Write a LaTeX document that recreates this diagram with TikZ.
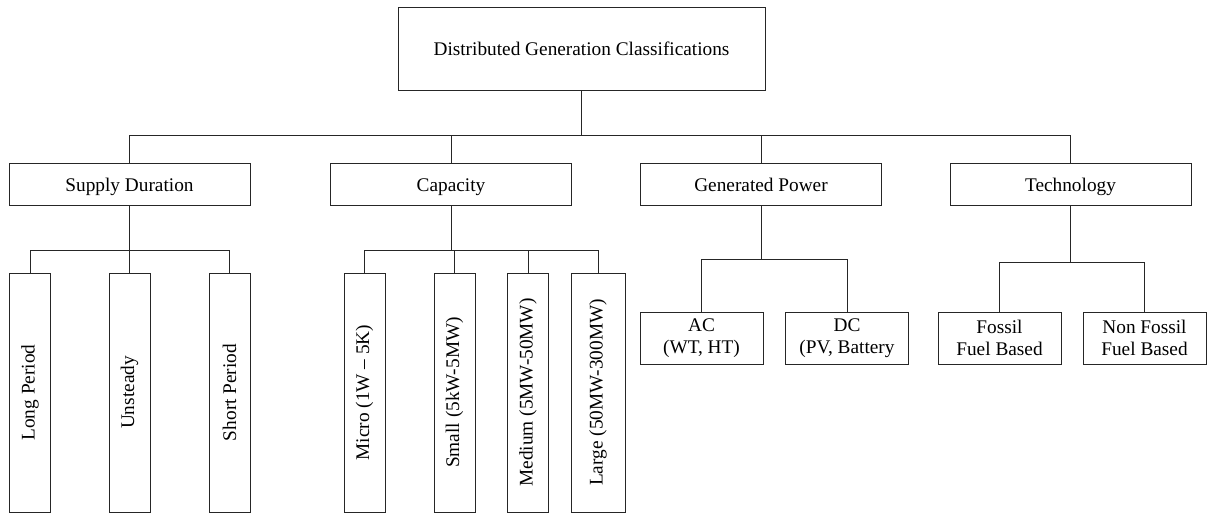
\documentclass[tikz,border=0pt]{standalone}
\usepackage{fontspec}
\setmainfont{Liberation Serif}
\usepackage{graphicx}
\begin{document}
\begin{tikzpicture}[x=1pt,y=-1pt,
  box/.style={draw=black!85, line width=1pt, inner sep=0pt, align=center,
    font=\fontsize{19.3}{22.5}\selectfont},
  topbox/.style={box, minimum width=367pt, minimum height=83pt, text height=13pt, text depth=0pt},
  midbox/.style={box, minimum width=241pt, minimum height=41pt, text height=13pt, text depth=0pt},
  vbox/.style={box, minimum width=41pt, minimum height=239pt},
  hbox/.style={box, minimum width=123pt, minimum height=52pt},
  conn/.style={draw=black!85, line width=1pt}]
\useasboundingbox (0,0) rectangle (1209,513);
% bus levels
\coordinate (y1) at (0,136);
\coordinate (y2) at (0,250);
\coordinate (y3) at (0,259);
\coordinate (y4) at (0,262);
% root
\node[topbox] (root) at (581.5,49.5) {Distributed Generation Classifications};
% level 2
\node[midbox] (sd) at (129.5,184.5) {Supply Duration};
\node[midbox] (cap) at (451,184.5) {Capacity};
\node[midbox] (gp) at (761,184.5) {Generated Power};
\node[midbox] (tech) at (1070.5,184.5) {Technology};
% supply duration children
\node[vbox] (lp) at (30,392.5) {\rotatebox{90}{Long Period}};
\node[vbox] (un) at (129.5,392.5) {\rotatebox{90}{Unsteady}};
\node[vbox] (sp) at (229.5,392.5) {\rotatebox{90}{Short Period}};
% capacity children
\node[vbox] (mi) at (364.5,392.5) {\rotatebox{90}{Micro (1W -- 5K)}};
\node[vbox] (sm) at (454.5,392.5) {\rotatebox{90}{Small (5kW-5MW)}};
\node[vbox] (me) at (528,392.5) {\rotatebox{90}{Medium (5MW-50MW)}};
\node[vbox, minimum width=54pt] (la) at (598,392.5) {\rotatebox{90}{Large (50MW-300MW)}};
% generated power children
\node[hbox] (ac) at (701.5,338) {AC\\(WT, HT)};
\node[hbox] (dc) at (847,338) {DC\\(PV, Battery};
% technology children
\node[hbox] (fo) at (999.5,338) {Fossil\\Fuel Based};
\node[hbox] (nf) at (1144.5,338) {Non Fossil\\Fuel Based};
% connectors level 1
\draw[conn] (root.south) -- (root.south |- y1);
\draw[conn] (sd.north) -- (sd.north |- y1) -- (tech.north |- y1) -- (tech.north);
\draw[conn] (cap.north) -- (cap.north |- y1);
\draw[conn] (gp.north) -- (gp.north |- y1);
% supply duration
\draw[conn] (sd.south) -- (sd.south |- y2);
\draw[conn] (lp.north) -- (lp.north |- y2) -- (sp.north |- y2) -- (sp.north);
\draw[conn] (un.north) -- (un.north |- y2);
% capacity
\draw[conn] (cap.south) -- (cap.south |- y2);
\draw[conn] (mi.north) -- (mi.north |- y2) -- (la.north |- y2) -- (la.north);
\draw[conn] (sm.north) -- (sm.north |- y2);
\draw[conn] (me.north) -- (me.north |- y2);
% generated power
\draw[conn] (gp.south) -- (gp.south |- y3);
\draw[conn] (ac.north) -- (ac.north |- y3) -- (dc.north |- y3) -- (dc.north);
% technology
\draw[conn] (tech.south) -- (tech.south |- y4);
\draw[conn] (fo.north) -- (fo.north |- y4) -- (nf.north |- y4) -- (nf.north);
\end{tikzpicture}
\end{document}
